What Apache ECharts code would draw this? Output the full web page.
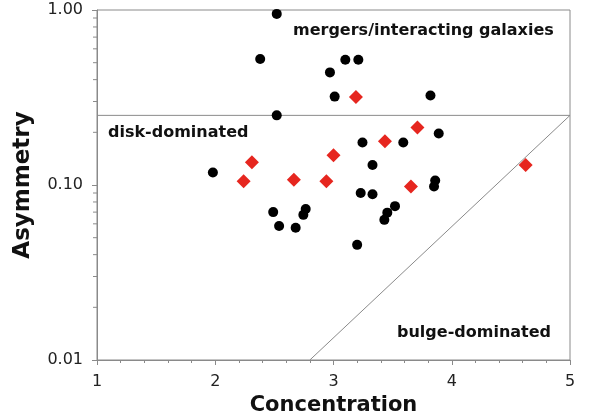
<!DOCTYPE html>
<html>
<head>
<meta charset="utf-8">
<script src="https://cdn.jsdelivr.net/npm/echarts@6/dist/echarts.min.js"></script>
<style>
  html, body { margin: 0; padding: 0; background: #fff; }
  #chart { width: 592px; height: 416px; }
</style>
</head>
<body>
<div id="chart"></div>
<script>
// [concentration, asymmetry]
const blackGalaxies = [
  [2.52, 0.95], [2.38, 0.525], [3.10, 0.52], [3.21, 0.52], [2.97, 0.44],
  [3.01, 0.32], [2.52, 0.25], [3.82, 0.325], [3.89, 0.197], [3.59, 0.175],
  [3.245, 0.175], [3.33, 0.13], [1.98, 0.118], [3.86, 0.106], [3.85, 0.098],
  [3.23, 0.09], [3.33, 0.0885], [3.52, 0.0757], [2.49, 0.07], [2.765, 0.073],
  [2.745, 0.0675], [2.54, 0.0583], [2.68, 0.057], [3.455, 0.0695], [3.43, 0.0632],
  [3.20, 0.0455]
]
const redGalaxies = [
  [3.19, 0.318], [3.71, 0.213], [3.435, 0.178], [3.00, 0.148], [2.31, 0.135],
  [4.625, 0.13], [2.24, 0.105], [2.665, 0.107], [2.94, 0.105], [3.655, 0.098]
]
// region boundaries
const mergerLine = [[1, 0.25], [5, 0.25]]
const bulgeLine = [[2.8, 0.01], [5, 0.25]]

// log minor ticks on the asymmetry axis
const yMinorTicks = [
  0.02, 0.03, 0.04, 0.05, 0.06, 0.07, 0.08, 0.09,
  0.2, 0.3, 0.4, 0.5, 0.6, 0.7, 0.8, 0.9
]

const regionLabels = ['mergers/interacting galaxies', 'disk-dominated', 'bulge-dominated']

const chart = echarts.init(document.getElementById('chart'))
const gray = '#8a8a8a'
const font = 'DejaVu Sans'

const boundary = (data) => ({
  type: 'line',
  data: data,
  symbol: 'none',
  silent: true,
  lineStyle: { color: gray, width: 1 },
  z: 1
})

const label = (text, left, top) => ({
  type: 'text',
  left: left,
  top: top,
  style: { text: text, font: 'bold 16px ' + font, fill: '#111' }
})

chart.setOption({
  animation: false,
  backgroundColor: '#fff',
  grid: {
    left: 97, right: 22, top: 10, bottom: 56,
    outerBoundsMode: 'none',
    containLabel: false,
    show: true, borderColor: gray, borderWidth: 1
  },
  xAxis: {
    type: 'value',
    min: 1, max: 5, interval: 1,
    name: 'Concentration',
    nameLocation: 'middle',
    nameGap: 33,
    nameTextStyle: { fontFamily: font, fontWeight: 'bold', fontSize: 21, color: '#111' },
    axisLine: { lineStyle: { color: gray } },
    axisTick: { length: 5, lineStyle: { color: gray } },
    minorTick: { show: true, splitNumber: 5, length: 3, lineStyle: { color: gray } },
    splitLine: { show: false },
    axisLabel: { fontFamily: font, fontSize: 16, color: '#222', margin: 14 }
  },
  yAxis: {
    type: 'log',
    logBase: 10,
    min: 0.01, max: 1,
    name: 'Asymmetry',
    nameLocation: 'middle',
    nameGap: 62,
    nameTextStyle: { fontFamily: font, fontWeight: 'bold', fontSize: 23, color: '#111' },
    axisLine: { show: true, lineStyle: { color: gray } },
    axisTick: { length: 5, lineStyle: { color: gray } },
    splitLine: { show: false },
    axisLabel: {
      fontFamily: font, fontSize: 16, color: '#222', margin: 14,
      formatter: (v) => v.toFixed(2)
    }
  },
  graphic: [
    label(regionLabels[0], 293, 23),
    label(regionLabels[1], 108, 125),
    label(regionLabels[2], 397, 325)
  ],
  series: [
    boundary(mergerLine),
    boundary(bulgeLine),
    {
      // short outward ticks at 2..9 of each decade
      type: 'scatter',
      silent: true,
      clip: false,
      data: yMinorTicks.map((v) => [1, v]),
      symbol: 'rect',
      symbolSize: [4, 1],
      symbolOffset: [-2, 0],
      itemStyle: { color: gray, opacity: 1 },
      z: 5
    },
    {
      name: 'black',
      type: 'scatter',
      data: blackGalaxies,
      symbol: 'circle',
      symbolSize: 10,
      itemStyle: { color: '#000', opacity: 1 },
      z: 3
    },
    {
      name: 'red',
      type: 'scatter',
      data: redGalaxies,
      symbol: 'diamond',
      symbolSize: 14,
      itemStyle: { color: '#e6261f', opacity: 1 },
      z: 4
    }
  ]
})
</script>
</body>
</html>
